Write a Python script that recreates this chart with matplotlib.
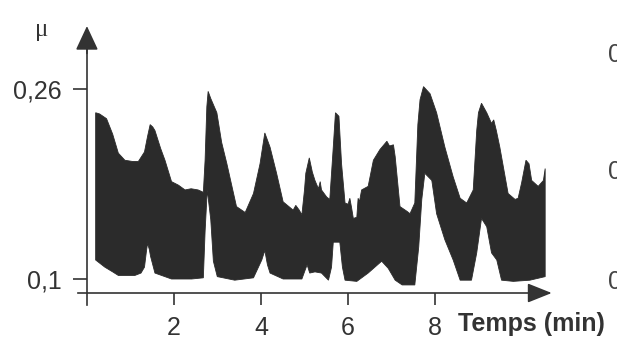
import matplotlib
matplotlib.use("Agg")
import matplotlib.pyplot as plt
import numpy as np

# ---- data ----
x_upper = [0.21, 0.30, 0.46, 0.60, 0.73, 0.88, 1.05, 1.19, 1.33, 1.40, 1.46, 1.52, 1.57, 1.70, 1.80,
           1.95, 2.11, 2.26, 2.40, 2.56, 2.68, 2.72, 2.76, 2.79, 2.85, 2.99, 3.10, 3.22, 3.44, 3.64,
           3.83, 3.98, 4.09, 4.21, 4.36, 4.51, 4.74, 4.80, 4.88, 4.94, 5.00, 5.03, 5.11, 5.18, 5.24,
           5.32, 5.36, 5.39, 5.51, 5.58, 5.66, 5.71, 5.79, 5.85, 5.93, 6.00, 6.04, 6.08, 6.12, 6.20,
           6.23, 6.26, 6.31, 6.46, 6.58, 6.73, 6.89, 6.95, 7.04, 7.08, 7.19, 7.35, 7.42, 7.53, 7.60,
           7.65, 7.73, 7.88, 8.03, 8.22, 8.41, 8.57, 8.72, 8.87, 8.95, 8.99, 9.06, 9.18, 9.29, 9.34,
           9.40, 9.48, 9.67, 9.83, 9.90, 9.98, 10.08, 10.15, 10.21, 10.36, 10.48, 10.52]
mu_upper = [0.240, 0.239, 0.235, 0.222, 0.206, 0.200, 0.199, 0.199, 0.207, 0.220, 0.230, 0.228, 0.225, 0.210, 0.200,
            0.182, 0.179, 0.175, 0.176, 0.175, 0.173, 0.200, 0.245, 0.258, 0.252, 0.240, 0.215, 0.197, 0.161, 0.156,
            0.172, 0.197, 0.223, 0.211, 0.189, 0.165, 0.158, 0.162, 0.158, 0.154, 0.175, 0.189, 0.202, 0.190, 0.183,
            0.176, 0.182, 0.175, 0.169, 0.167, 0.211, 0.240, 0.237, 0.197, 0.164, 0.163, 0.168, 0.160, 0.151, 0.152,
            0.168, 0.165, 0.175, 0.178, 0.200, 0.209, 0.216, 0.212, 0.213, 0.203, 0.161, 0.157, 0.155, 0.164, 0.230,
            0.251, 0.262, 0.256, 0.240, 0.211, 0.186, 0.168, 0.164, 0.175, 0.225, 0.240, 0.248, 0.240, 0.231, 0.234,
            0.225, 0.211, 0.172, 0.167, 0.168, 0.181, 0.200, 0.197, 0.183, 0.178, 0.183, 0.193]

x_lower = [0.21, 0.42, 0.60, 0.73, 1.11, 1.25, 1.33, 1.37, 1.40, 1.44, 1.47, 1.57, 1.95, 2.41, 2.68,
           2.72, 2.77, 2.85, 2.91, 3.00, 3.40, 3.83, 4.02, 4.09, 4.15, 4.21, 4.51, 4.94, 5.06, 5.12,
           5.24, 5.39, 5.55, 5.62, 5.66, 5.81, 5.87, 5.93, 6.20, 6.46, 6.77, 6.92, 7.08, 7.24, 7.53,
           7.62, 7.69, 7.76, 7.92, 8.03, 8.22, 8.41, 8.57, 8.83, 8.95, 9.06, 9.18, 9.29, 9.41, 9.52,
           9.79, 10.17, 10.52]
mu_lower = [0.116, 0.110, 0.106, 0.103, 0.103, 0.105, 0.110, 0.122, 0.130, 0.125, 0.119, 0.105, 0.100, 0.100, 0.101,
            0.140, 0.175, 0.150, 0.115, 0.102, 0.099, 0.101, 0.116, 0.124, 0.112, 0.105, 0.100, 0.100, 0.112, 0.105,
            0.106, 0.105, 0.099, 0.110, 0.131, 0.131, 0.110, 0.099, 0.098, 0.105, 0.115, 0.109, 0.099, 0.095, 0.095,
            0.127, 0.167, 0.189, 0.183, 0.155, 0.133, 0.116, 0.099, 0.099, 0.122, 0.151, 0.144, 0.122, 0.116, 0.099,
            0.098, 0.099, 0.102]

x_ticks = [2, 4, 6, 8]
x_ticklabels = ["2", "4", "6", "8"]
y_ticks = [0.1, 0.26]
y_ticklabels = ["0,1", "0,26"]

INK = "#333333"
FILL = "#2b2b2b"

plt.rcParams["font.family"] = ["Liberation Sans", "DejaVu Sans"]

fig = plt.figure(figsize=(6.17, 3.43), dpi=100)
ax = fig.add_axes([0.12606, 0.11735, 0.77731, 0.79628])
ax.set_xlim(-0.2, 10.8)
ax.set_ylim(0.08, 0.31)

# band
poly_x = np.concatenate([x_upper, x_lower[::-1]])
poly_y = np.concatenate([mu_upper, mu_lower[::-1]])
ax.fill(poly_x, poly_y, color=FILL, lw=0.6, ec=FILL)

# axes as arrows
ax.spines["right"].set_visible(False)
ax.spines["top"].set_visible(False)
ax.spines["left"].set_position(("data", 0.01))
ax.spines["bottom"].set_position(("data", 0.0882))
ax.spines["left"].set_bounds(0.078, 0.30)
ax.spines["bottom"].set_bounds(-0.2, 10.3)
for s in ("left", "bottom"):
    ax.spines[s].set_color(INK)
    ax.spines[s].set_linewidth(1.2)
    ax.spines[s].set_clip_on(False)

arrow_kw = dict(arrowstyle="-|>,head_length=15,head_width=7", mutation_scale=1,
                color=INK, lw=1.2, shrinkA=0, shrinkB=0)
ax.annotate("", xy=(0.01, 0.313), xytext=(0.01, 0.29), xycoords="data",
            arrowprops=arrow_kw, annotation_clip=False)
arrow_kw2 = dict(arrow_kw)
arrow_kw2["arrowstyle"] = "-|>,head_length=15,head_width=6"
ax.annotate("", xy=(10.67, 0.0882), xytext=(10.2, 0.0882), xycoords="data",
            arrowprops=arrow_kw2, annotation_clip=False)

ax.set_xticks(x_ticks)
ax.set_xticklabels(x_ticklabels)
ax.set_yticks(y_ticks)
ax.set_yticklabels(y_ticklabels)
ax.tick_params(axis="x", direction="out", length=8.5, width=1.2, color=INK,
               labelsize=18, labelcolor=INK, pad=8)
ax.tick_params(axis="y", direction="out", length=10, width=1.2, color=INK,
               labelsize=18, labelcolor=INK, pad=8)
ax.patch.set_visible(False)

# labels
fig.text(42 / 617, 1 - 30 / 343, "μ", fontsize=18, color=INK, ha="center", va="center",
         family=["Liberation Serif", "DejaVu Serif"])
fig.text(458 / 617, 1 - 331 / 343, "Temps (min)", fontsize=18, fontweight="bold",
         color=INK, ha="left", va="baseline")

# partially visible labels of a neighbouring figure
for yy in (55, 172, 282):
    fig.text(608 / 617, 1 - yy / 343, "0", fontsize=18, color="#444444", ha="left", va="center")

fig.savefig("out.png", dpi=100)
